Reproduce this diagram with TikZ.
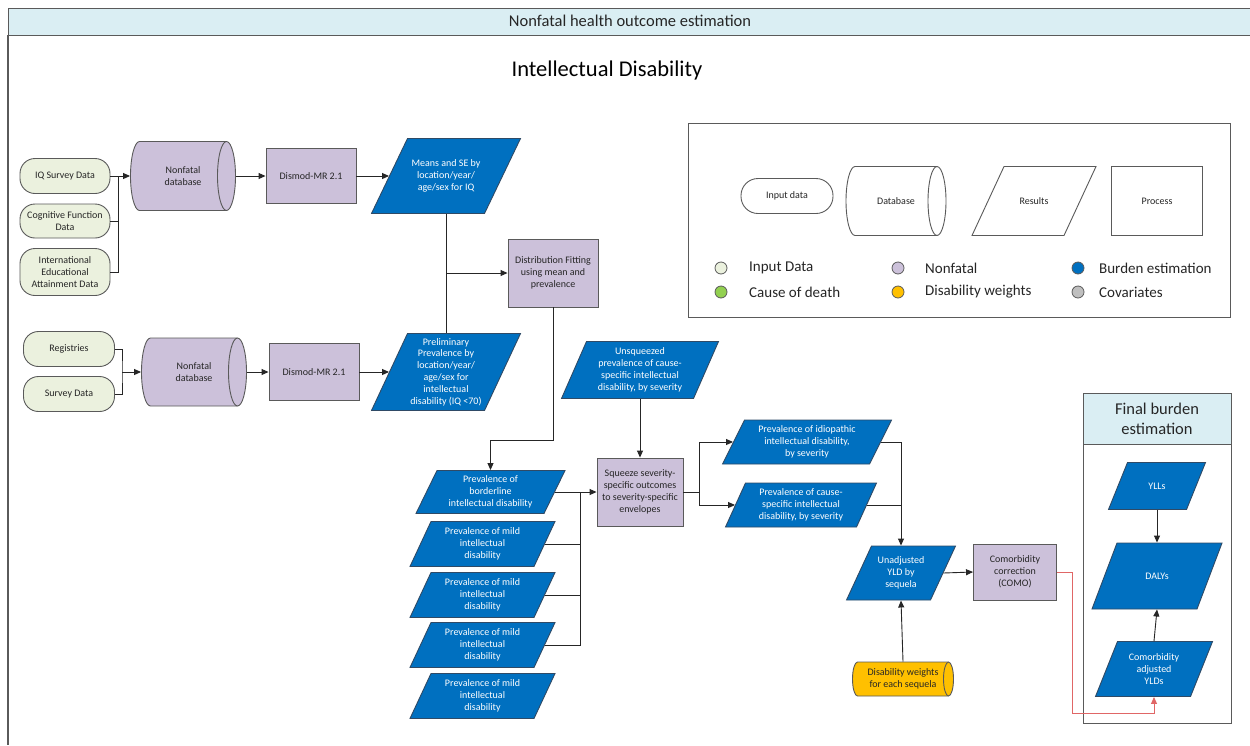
\documentclass[tikz,border=0pt]{standalone}
\usepackage{fontspec}
\setmainfont{Carlito}
\usetikzlibrary{arrows.meta,calc}
\definecolor{lav}{HTML}{CCC1DA}
\definecolor{inpfill}{HTML}{EBF1DE}
\definecolor{bluefill}{HTML}{0070C0}
\definecolor{blueedge}{HTML}{2F4A66}
\definecolor{hdrfill}{HTML}{DAEEF3}
\definecolor{yel}{HTML}{FFC000}
\definecolor{edgegray}{HTML}{5A5A5A}
\definecolor{codgreen}{HTML}{92D050}
\definecolor{covgray}{HTML}{BFBFBF}
\definecolor{redline}{HTML}{E06666}
\definecolor{txt}{HTML}{262626}

\newcommand\mypgram[8]{%
  \draw[#7] (#2-#4/2-#6/2,#3+#5/2) -- (#2-#4/2+#6/2,#3-#5/2) -- (#2+#4/2+#6/2,#3-#5/2) -- (#2+#4/2-#6/2,#3+#5/2) -- cycle;
  \node[#7, draw=none, fill=none, minimum width=#4, minimum height=#5] (#1) at (#2,#3) {#8};}

\newcommand\mycyl[8]{%
  \draw[#7] (#2-#4/2+#6,#3-#5/2) -- (#2+#4/2-#6,#3-#5/2)
   .. controls (#2+#4/2-0.45*#6,#3-#5/2) and (#2+#4/2,#3-0.276*#5) .. (#2+#4/2,#3)
   .. controls (#2+#4/2,#3+0.276*#5) and (#2+#4/2-0.45*#6,#3+#5/2) .. (#2+#4/2-#6,#3+#5/2)
   -- (#2-#4/2+#6,#3+#5/2)
   .. controls (#2-#4/2+0.45*#6,#3+#5/2) and (#2-#4/2,#3+0.276*#5) .. (#2-#4/2,#3)
   .. controls (#2-#4/2,#3-0.276*#5) and (#2-#4/2+0.45*#6,#3-#5/2) .. (#2-#4/2+#6,#3-#5/2) -- cycle;
  \draw[#7, fill=none] (#2+#4/2-#6,#3-#5/2)
   .. controls (#2+#4/2-1.55*#6,#3-#5/2) and (#2+#4/2-2*#6,#3-0.276*#5) .. (#2+#4/2-2*#6,#3)
   .. controls (#2+#4/2-2*#6,#3+0.276*#5) and (#2+#4/2-1.55*#6,#3+#5/2) .. (#2+#4/2-#6,#3+#5/2);
  \node[#7, draw=none, fill=none, minimum width=#4, minimum height=#5] (#1) at (#2,#3) {#8};}

\begin{document}
\begin{tikzpicture}[x=1pt,y=-1pt,
  base/.style={align=center, inner sep=0pt, text=txt, font=\fontsize{10}{11.8}\selectfont, line width=0.9pt},
  inp/.style={base, draw=edgegray, fill=inpfill, rounded corners=15pt},
  proc/.style={base, draw=edgegray, fill=lav},
  bluep/.style={base, draw=blueedge, fill=bluefill, text=white},
  whitep/.style={base, draw=edgegray, fill=white, font=\fontsize{10}{12}\selectfont},
  lavc/.style={base, draw=edgegray, fill=lav},
  yelc/.style={base, draw=edgegray, fill=yel},
  whitec/.style={base, draw=edgegray, fill=white, font=\fontsize{10}{12}\selectfont},
  ln/.style={draw=black!85, line width=0.9pt},
  arr/.style={ln, -{Triangle[length=7pt,width=6pt]}},
  redarr/.style={draw=redline, line width=0.9pt, -{Triangle[length=7pt,width=6pt]}},
  dot/.style={circle, draw=edgegray, line width=0.8pt, minimum size=12pt, inner sep=0pt},
  legtxt/.style={anchor=west, inner sep=0pt, text=txt, font=\fontsize{15}{18}\selectfont}
]
\useasboundingbox (0,0) rectangle (1250,745);
\fill[white] (0,0) rectangle (1250,745);

% frame and header
\draw[fill=hdrfill, draw=edgegray, line width=1pt] (8,8) rectangle (1252,35);
\draw[edgegray, line width=1.5pt] (8,35) -- (8,745);
\node[text=txt, font=\fontsize{16.5}{19}\selectfont] (hdr) at (630,21) {Nonfatal health outcome estimation};
\node[text=black, font=\fontsize{22.5}{27}\selectfont] (title) at (607,70) {Intellectual Disability};

% legend
\draw[edgegray, line width=1pt, fill=white] (688,123) rectangle (1230,317);
\node[inp, fill=white, font=\fontsize{10}{12}\selectfont, minimum width=92pt, minimum height=35pt, rounded corners=17pt] (lin) at (787,196) {Input data};
\mycyl{ldb}{896}{201}{100}{69}{9}{whitec}{Database}
\mypgram{lres}{1034}{201}{92}{69}{32}{whitep}{Results}
\node[whitep, draw=edgegray, minimum width=91pt, minimum height=69pt] (lproc) at (1157,201) {Process};
\node[dot, fill=inpfill] (c1) at (721,268) {};
\node[dot, fill=codgreen] (c2) at (721,292) {};
\node[dot, fill=lav] (c3) at (898,268) {};
\node[dot, fill=yel] (c4) at (898,292) {};
\node[dot, fill=bluefill] (c5) at (1078,268) {};
\node[dot, fill=covgray] (c6) at (1078,292) {};
\node[legtxt] (t1) at (749,268) {Input Data};
\node[legtxt] (t2) at (749,292) {Cause of death};
\node[legtxt] (t3) at (925,268) {Nonfatal};
\node[legtxt] (t4) at (925,292) {Disability weights};
\node[legtxt] (t5) at (1099,268) {Burden estimation};
\node[legtxt] (t6) at (1099,292) {Covariates};

% top row
\node[inp, minimum width=90pt, minimum height=35pt] (iq) at (65,176) {IQ Survey Data};
\node[inp, minimum width=90pt, minimum height=34pt] (cog) at (65,221) {Cognitive Function\\Data};
\node[inp, minimum width=90pt, minimum height=47pt] (intl) at (65,272) {International\\Educational\\Attainment Data};
\mycyl{db1}{183}{176}{105}{69}{9}{lavc}{Nonfatal\\database}
\node[proc, minimum width=90pt, minimum height=55pt] (dm1) at (311,176) {Dismod-MR 2.1};
\mypgram{means}{446}{176}{113}{75}{36}{bluep}{Means and SE by\\location/year/\\age/sex for IQ}
\node[proc, minimum width=90pt, minimum height=68pt] (dist) at (553,273) {Distribution Fitting\\using mean and\\prevalence};

% second row
\node[inp, minimum width=91pt, minimum height=35pt] (reg) at (69,349) {Registries};
\node[inp, minimum width=91pt, minimum height=35pt] (surv) at (69,394) {Survey Data};
\mycyl{db2}{194}{372}{105}{68}{9}{lavc}{Nonfatal\\database}
\node[proc, minimum width=90pt, minimum height=57pt] (dm2) at (314,372) {Dismod-MR 2.1};
\mypgram{prelim}{446}{372}{113}{77}{36}{bluep}{Preliminary\\Prevalence by\\location/year/\\age/sex for\\intellectual\\disability (IQ <70)}

% severity column
\mypgram{border}{490.5}{492}{128}{43}{21}{bluep}{Prevalence of\\borderline\\intellectual disability}
\mypgram{mild1}{482.5}{544}{124}{45}{21}{bluep}{Prevalence of mild\\intellectual\\disability}
\mypgram{mild2}{482.5}{595}{124}{45}{21}{bluep}{Prevalence of mild\\intellectual\\disability}
\mypgram{mild3}{482.5}{645}{124}{45}{21}{bluep}{Prevalence of mild\\intellectual\\disability}
\mypgram{mild4}{482.5}{696}{124}{45}{21}{bluep}{Prevalence of mild\\intellectual\\disability}

% middle
\mypgram{unsq}{640}{370}{132}{57}{25}{bluep}{Unsqueezed\\prevalence of cause-\\specific intellectual\\disability, by severity}
\node[proc, minimum width=86pt, minimum height=68pt] (squeeze) at (640,492) {Squeeze severity-\\specific outcomes\\to severity-specific\\envelopes};
\mypgram{idio}{807}{442}{147}{44}{22}{bluep}{Prevalence of idiopathic\\intellectual disability,\\by severity}
\mypgram{cause}{801}{505}{131}{44}{20}{bluep}{Prevalence of cause-\\specific intellectual\\disability, by severity}
\mypgram{unadj}{901}{573}{84}{54}{25}{bluep}{Unadjusted\\YLD by\\sequela}
\node[proc, minimum width=83pt, minimum height=56pt] (como) at (1015,572) {Comorbidity\\correction\\(COMO)};
\mycyl{dw}{903}{679}{101}{34}{5}{yelc}{Disability weights\\for each sequela}

% final burden
\draw[edgegray, line width=1pt, fill=white] (1083,393) rectangle (1231,723);
\draw[edgegray, line width=1pt, fill=hdrfill] (1083,393) rectangle (1231,444);
\node[text=txt, align=center, font=\fontsize{16.5}{20}\selectfont] (fbt) at (1157,418.5) {Final burden\\estimation};
\mypgram{yll}{1157}{486}{78}{47}{19}{bluep}{YLLs}
\mypgram{daly}{1157}{576}{105}{66}{25}{bluep}{DALYs}
\mypgram{yld}{1154}{669}{95}{55}{22}{bluep}{Comorbidity\\adjusted\\YLDs}

% connectors top
\coordinate (j1) at (118,176);
\draw[arr] (iq.east) -- (db1.west);
\draw[ln] (cog.east) -| (j1);
\draw[ln] (intl.east) -| (j1);
\draw[arr] (db1.east) -- (dm1.west);
\draw[arr] (dm1.east) -- (means.west);
\draw[ln] (means.south) -- (prelim.north);
\draw[arr] (means.south |- dist.west) -- (dist.west);

% connectors second row
\coordinate (j2) at (122,372);
\draw[ln] (reg.east) -| (j2) |- (surv.east);
\draw[arr] (j2) -- (db2.west);
\draw[arr] (db2.east) -- (dm2.west);
\draw[arr] (dm2.east) -- (prelim.west);

% distribution to borderline
\coordinate (k1) at (553,440);
\draw[arr] (dist.south) -- (k1) -| (border.north);

% severity to squeeze
\coordinate (j3) at (580,492);
\draw[arr] (border.east) -- (squeeze.west);
\draw[ln] (mild3.east) -| (j3);
\draw[ln] (mild1.east) -- (mild1.east -| j3);
\draw[ln] (mild2.east) -- (mild2.east -| j3);
\draw[arr] (unsq.south) -- (squeeze.north);

% squeeze outputs
\coordinate (j4) at (699,492);
\draw[ln] (squeeze.east) -- (j4);
\draw[arr] (j4) |- (idio.west);
\draw[arr] (j4) |- (cause.west);
\draw[arr] (idio.east) -| (unadj.north);
\draw[ln] (cause.east) -- (cause.east -| unadj.north);
\draw[arr] (unadj.east) -- (como.west);
\draw[arr] (dw.north) -- (unadj.south);

% final
\coordinate (r1) at (1072,713);
\draw[redarr] (como.east) -| (r1) -| (yld.south);
\draw[arr] (yll.south) -- (daly.north);
\draw[arr] (yld.north) -- (daly.south);
\end{tikzpicture}
\end{document}
